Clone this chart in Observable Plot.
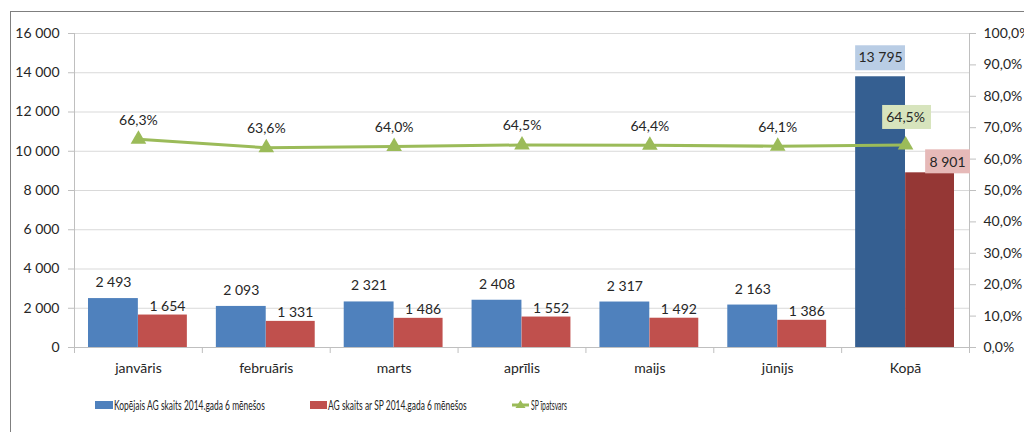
<!DOCTYPE html>
<html>
<head>
<meta charset="utf-8">
<script src="https://cdn.jsdelivr.net/npm/d3@7"></script>
<script src="https://cdn.jsdelivr.net/npm/@observablehq/plot@0.6"></script>
<style>
  html, body { margin: 0; padding: 0; background: #fff; overflow: hidden; }
  #wrap { position: relative; width: 1024px; height: 432px; }
  #frame { position: absolute; left: 10px; top: 11px; width: 1200px; height: 600px;
           border: 1px solid #7f7f7f; box-sizing: border-box; pointer-events: none; }
  #legend { display: block; }
</style>
</head>
<body>
<div id="wrap">
  <div id="chart"></div>
  <svg id="legend" width="1024" height="47"></svg>
  <div id="frame"></div>
</div>
<script>
const categories = ["janvāris", "februāris", "marts", "aprīlis", "maijs", "jūnijs", "Kopā"];
const totalAG = [2493, 2093, 2321, 2408, 2317, 2163, 13795];
const withSP = [1654, 1331, 1486, 1552, 1492, 1386, 8901];
const spShare = [66.3, 63.6, 64.0, 64.5, 64.4, 64.1, 64.5];
const leftTicks = [0, 2000, 4000, 6000, 8000, 10000, 12000, 14000, 16000];
const rightTicks = [0, 10, 20, 30, 40, 50, 60, 70, 80, 90, 100];
const seriesNames = ["Kopējais AG skaits 2014.gada 6 mēnešos", "AG skaits ar SP 2014.gada 6 mēnešos", "SP īpatsvars"];

const K = 16000 / 100; // percent -> left-axis units (secondary axis mapping)
const rows = categories.map((cat, i) => ({i, cat, total: totalAG[i], sp: withSP[i], share: spShare[i]}));
const months = rows.slice(0, 6);
const kopa = rows.slice(6);

const fmtNum = d => d3.format(",")(d).replace(/,/g, " ");
const fmtPct = v => v.toFixed(1).replace(".", ",") + "%";

const FONT = "Lato, 'Open Sans', sans-serif";
const TXT = "#262626";

const chart = Plot.plot({
  width: 1024,
  height: 385,
  marginLeft: 74,
  marginRight: 55,
  marginTop: 33,
  marginBottom: 38,
  x: {domain: [0, 7], axis: null},
  y: {domain: [0, 16000], axis: null},
  style: {fontFamily: FONT, fontSize: "14px", color: TXT, background: "transparent", overflow: "visible"},
  marks: [
    Plot.ruleY(leftTicks.filter(d => d > 0), {stroke: "#D9D9D9", strokeWidth: 1}),
    // bars
    Plot.rect(months, {x1: d => d.i, x2: d => d.i + 1, y1: d => 0, y2: "total", insetLeft: 14, insetRight: 64, fill: "#4F81BD"}),
    Plot.rect(months, {x1: d => d.i, x2: d => d.i + 1, y1: d => 0, y2: "sp", insetLeft: 64, insetRight: 15, fill: "#C0504D"}),
    Plot.rect(kopa, {x1: d => d.i, x2: d => d.i + 1, y1: d => 0, y2: "total", insetLeft: 14, insetRight: 64, fill: "#355F91"}),
    Plot.rect(kopa, {x1: d => d.i, x2: d => d.i + 1, y1: d => 0, y2: "sp", insetLeft: 64, insetRight: 15, fill: "#953735"}),
    // axes lines
    Plot.ruleX([0, 7], {stroke: "#BFBFBF"}),
    Plot.ruleY([0], {stroke: "#BFBFBF"}),
    Plot.axisX(d3.range(8), {tickSize: 6, tickFormat: () => "", stroke: "#BFBFBF", label: null}),
    Plot.text(rows, {x: d => d.i + 0.5, y: d => 0, text: "cat", dy: 21, fontSize: 14, fill: TXT}),
    Plot.axisY(leftTicks, {anchor: "left", tickSize: 6, tickPadding: 9, tickFormat: fmtNum, stroke: "#BFBFBF", fill: TXT, fontSize: 14, label: null}),
    Plot.axisY(rightTicks.map(p => p * K), {anchor: "right", tickSize: 6, tickPadding: 8, tickFormat: v => fmtPct(v / K), stroke: "#BFBFBF", fill: TXT, fontSize: 14, label: null}),
    // line
    Plot.line(rows, {x: d => d.i + 0.5, y: d => d.share * K, stroke: "#9BBB59", strokeWidth: 3}),
    Plot.dot(rows, {x: d => d.i + 0.5, y: d => d.share * K, symbol: "triangle", r: 5.8, fill: "#9BBB59", stroke: null}),
    // month labels
    Plot.text(months, {x: d => d.i + 0.5, y: "total", text: d => fmtNum(d.total), dx: -25, dy: -16, fontSize: 14, fill: TXT}),
    Plot.text(months, {x: d => d.i + 0.5, y: "sp", text: d => fmtNum(d.sp), dx: 29, dy: -9, fontSize: 14, fill: TXT}),
    Plot.text(months, {x: d => d.i + 0.5, y: d => d.share * K, text: d => fmtPct(d.share), dy: -19, fontSize: 14, fill: TXT}),
    // Kopā labels with boxes
    Plot.rect(kopa, {x1: d => d.i, x2: d => d.i + 1, y1: "total", y2: "total", insetLeft: 14, insetRight: 64, insetTop: -31, insetBottom: 6, fill: "#B9CDE5"}),
    Plot.text(kopa, {x: d => d.i + 0.5, y: "total", text: d => fmtNum(d.total), dx: -25, dy: -19, fontSize: 14, fill: TXT}),
    Plot.rect(kopa, {x1: d => d.i, x2: d => d.i + 1, y1: "sp", y2: "sp", insetLeft: 84, insetRight: -1, insetTop: -23, insetBottom: -1, fill: "#E6B9B8"}),
    Plot.text(kopa, {x: d => d.i + 0.5, y: "sp", text: d => fmtNum(d.sp), dx: 42, dy: -10, fontSize: 14, fill: TXT}),
    Plot.rect(kopa, {x1: d => d.i, x2: d => d.i + 1, y1: d => d.share * K, y2: d => d.share * K, insetLeft: 41, insetRight: 38, insetTop: -39.5, insetBottom: 15.5, fill: "#D7E4BD"}),
    Plot.text(kopa, {x: d => d.i + 0.5, y: d => d.share * K, text: d => fmtPct(d.share), dy: -27.5, fontSize: 14, fill: TXT})
  ]
});
document.getElementById("chart").appendChild(chart);

// legend (below the plot)
const lg = d3.select("#legend");
const cy = 20;
const items = [
  {type: "rect", color: "#4F81BD", x0: 95, x1: 113, tx: 114, tl: 151, label: seriesNames[0]},
  {type: "rect", color: "#C0504D", x0: 310, x1: 327, tx: 328, tl: 139, label: seriesNames[1]},
  {type: "line", color: "#9BBB59", x0: 512, x1: 529, tx: 531, tl: 36, label: seriesNames[2]}
];
for (const it of items) {
  if (it.type === "rect") {
    lg.append("rect").attr("x", it.x0).attr("y", cy - 4).attr("width", it.x1 - it.x0).attr("height", 8).attr("fill", it.color);
  } else {
    lg.append("line").attr("x1", it.x0).attr("x2", it.x1).attr("y1", cy).attr("y2", cy)
      .attr("stroke", it.color).attr("stroke-width", 3);
    const mx = (it.x0 + it.x1) / 2;
    lg.append("path").attr("d", `M${mx},${cy - 5}L${mx + 5},${cy + 3}L${mx - 5},${cy + 3}Z`).attr("fill", it.color);
  }
  const g = lg.append("g");
  const t = g.append("text").attr("x", 0).attr("y", 0).attr("dy", "0.35em")
    .attr("font-family", FONT).attr("font-size", 14).attr("fill", TXT)
    .text(it.label);
  const w = t.node().getComputedTextLength() || it.tl;
  g.attr("transform", `translate(${it.tx},${cy}) scale(${it.tl / w},1)`);
}
</script>
</body>
</html>
